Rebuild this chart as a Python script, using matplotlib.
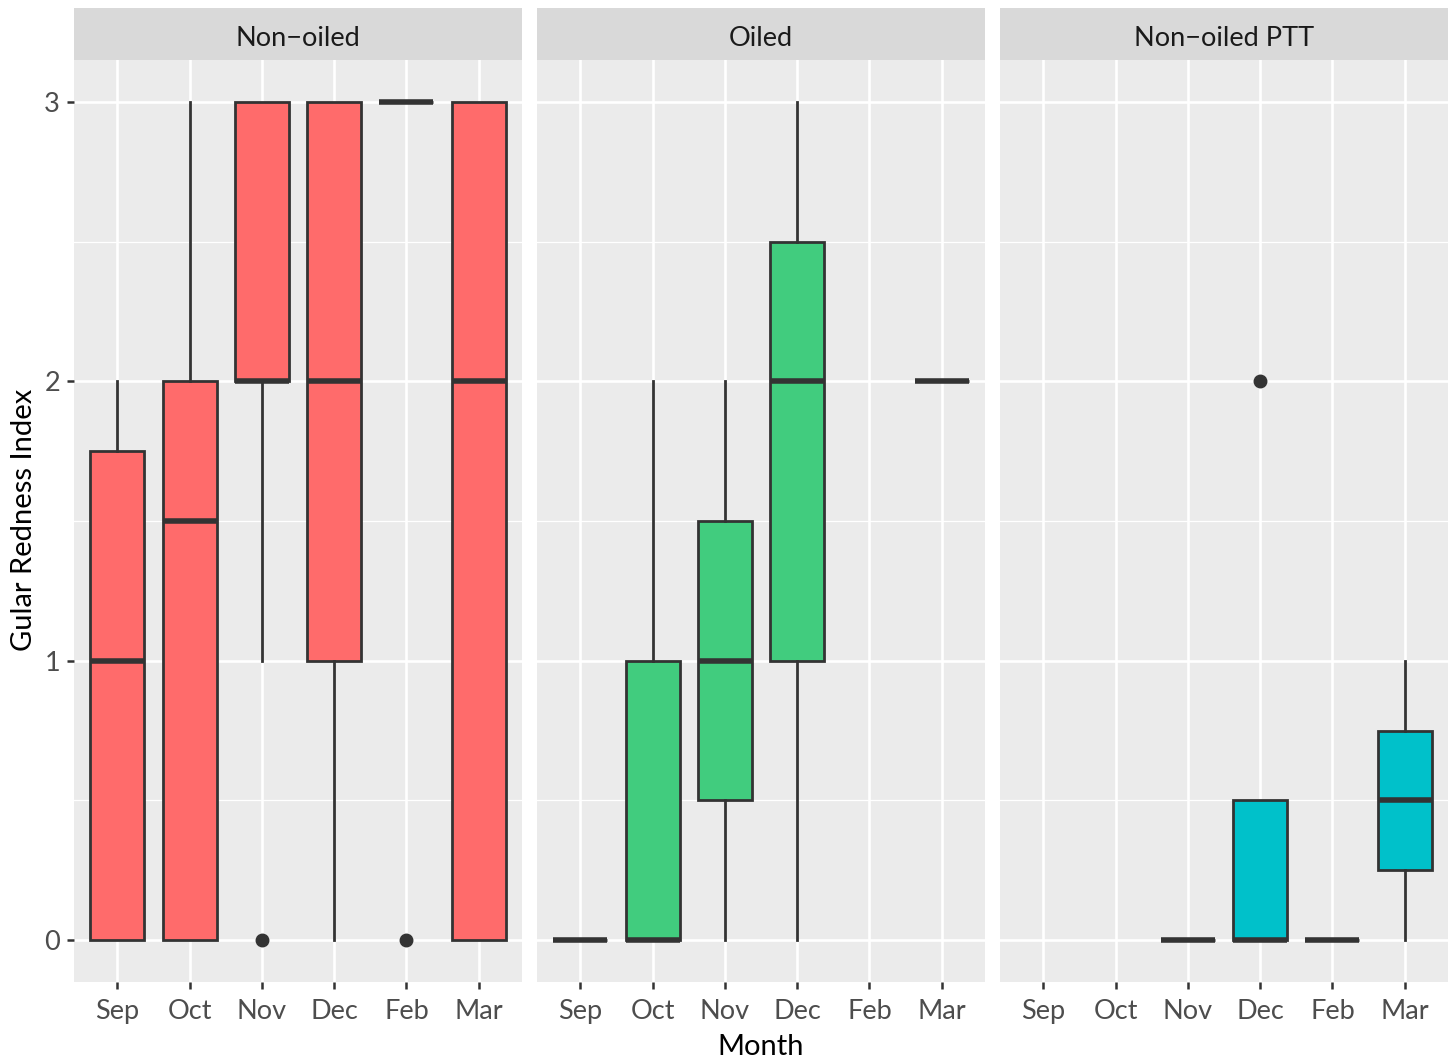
import matplotlib
matplotlib.use("Agg")
import matplotlib.pyplot as plt

plt.rcParams['font.family'] = ['Lato', 'DejaVu Sans']

months = ["Sep", "Oct", "Nov", "Dec", "Feb", "Mar"]
groups = ["Non\u2212oiled", "Oiled", "Non\u2212oiled PTT"]
colors = ["#FF6B6B", "#41CC7E", "#00C1CA"]
y_ticks = [0, 1, 2, 3]
y_minor = [0.5, 1.5, 2.5]
y_labels = ["0", "1", "2", "3"]

# box stats per group: (whislo, q1, med, q3, whishi, fliers) or None
nonoiled = [
    (0, 0, 1, 1.75, 2, []),
    (0, 0, 1.5, 2, 3, []),
    (1, 2, 2, 3, 3, [0]),
    (0, 1, 2, 3, 3, []),
    (3, 3, 3, 3, 3, [0]),
    (0, 0, 2, 3, 3, []),
]
oiled = [
    (0, 0, 0, 0, 0, []),
    (0, 0, 0, 1, 2, []),
    (0, 0.5, 1, 1.5, 2, []),
    (0, 1, 2, 2.5, 3, []),
    None,
    (2, 2, 2, 2, 2, []),
]
ptt = [
    None,
    None,
    (0, 0, 0, 0, 0, []),
    (0, 0, 0, 0.5, 0.5, [2]),
    (0, 0, 0, 0, 0, []),
    (0, 0.25, 0.5, 0.75, 1, []),
]
all_stats = [nonoiled, oiled, ptt]

W, H = 1451, 1061
fig = plt.figure(figsize=(W / 100, H / 100), dpi=100)

lefts = [74, 537, 1000]
pw = 448
top, bottom = 60, 982
strip_top = 8

for gi, (name, stats, col) in enumerate(zip(groups, all_stats, colors)):
    ax = fig.add_axes([lefts[gi] / W, 1 - bottom / H, pw / W, (bottom - top) / H])
    ax.set_facecolor("#EBEBEB")
    for s in ax.spines.values():
        s.set_visible(False)
    ax.set_xlim(0.4, 6.6)
    ax.set_ylim(-0.15, 3.15)
    ax.set_xticks(range(1, 7))
    ax.set_xticklabels(months)
    ax.set_yticks(y_ticks)
    ax.set_yticks(y_minor, minor=True)
    ax.grid(True, which="major", color="white", lw=1.9)
    ax.grid(True, which="minor", axis="y", color="white", lw=0.9)
    ax.set_axisbelow(True)
    ax.tick_params(axis="x", which="major", length=5, width=1.8, color="#333333",
                   labelsize=19.5, labelcolor="#4D4D4D", pad=7)
    ax.tick_params(axis="y", which="major", length=5, width=1.8, color="#333333",
                   labelsize=19.5, labelcolor="#4D4D4D", pad=5)
    ax.tick_params(axis="y", which="minor", length=0)
    if gi == 0:
        ax.set_yticklabels(y_labels)
    else:
        ax.tick_params(axis="y", which="major", labelleft=False, length=0)

    bxs, pos = [], []
    for mi, st in enumerate(stats):
        if st is None:
            continue
        lo, q1, med, q3, hi, fl = st
        bxs.append(dict(whislo=lo, q1=q1, med=med, q3=q3, whishi=hi, fliers=fl))
        pos.append(mi + 1)
    ax.bxp(bxs, positions=pos, widths=0.75, patch_artist=True, showcaps=False,
           boxprops=dict(facecolor=col, edgecolor="#333333", lw=2.0),
           medianprops=dict(color="#333333", lw=4.0, solid_capstyle="butt"),
           whiskerprops=dict(color="#333333", lw=2.0),
           flierprops=dict(marker="o", markerfacecolor="#333333", markeredgecolor="#333333",
                           markersize=9),
           manage_ticks=False)

    sax = fig.add_axes([lefts[gi] / W, 1 - top / H, pw / W, (top - strip_top) / H])
    sax.set_facecolor("#D9D9D9")
    sax.set_xticks([]); sax.set_yticks([])
    for s in sax.spines.values():
        s.set_visible(False)
    sax.text(0.5, 0.42, name, ha="center", va="center", fontsize=19.5, color="#1A1A1A",
             transform=sax.transAxes)

fig.text(761 / W, 1 - 1047 / H, "Month", ha="center", va="center", fontsize=21, color="black")
fig.text(24 / W, 1 - 520 / H, "Gular Redness Index", ha="center", va="center",
         rotation=90, fontsize=21, color="black")

fig.savefig("out.png", dpi=100)
